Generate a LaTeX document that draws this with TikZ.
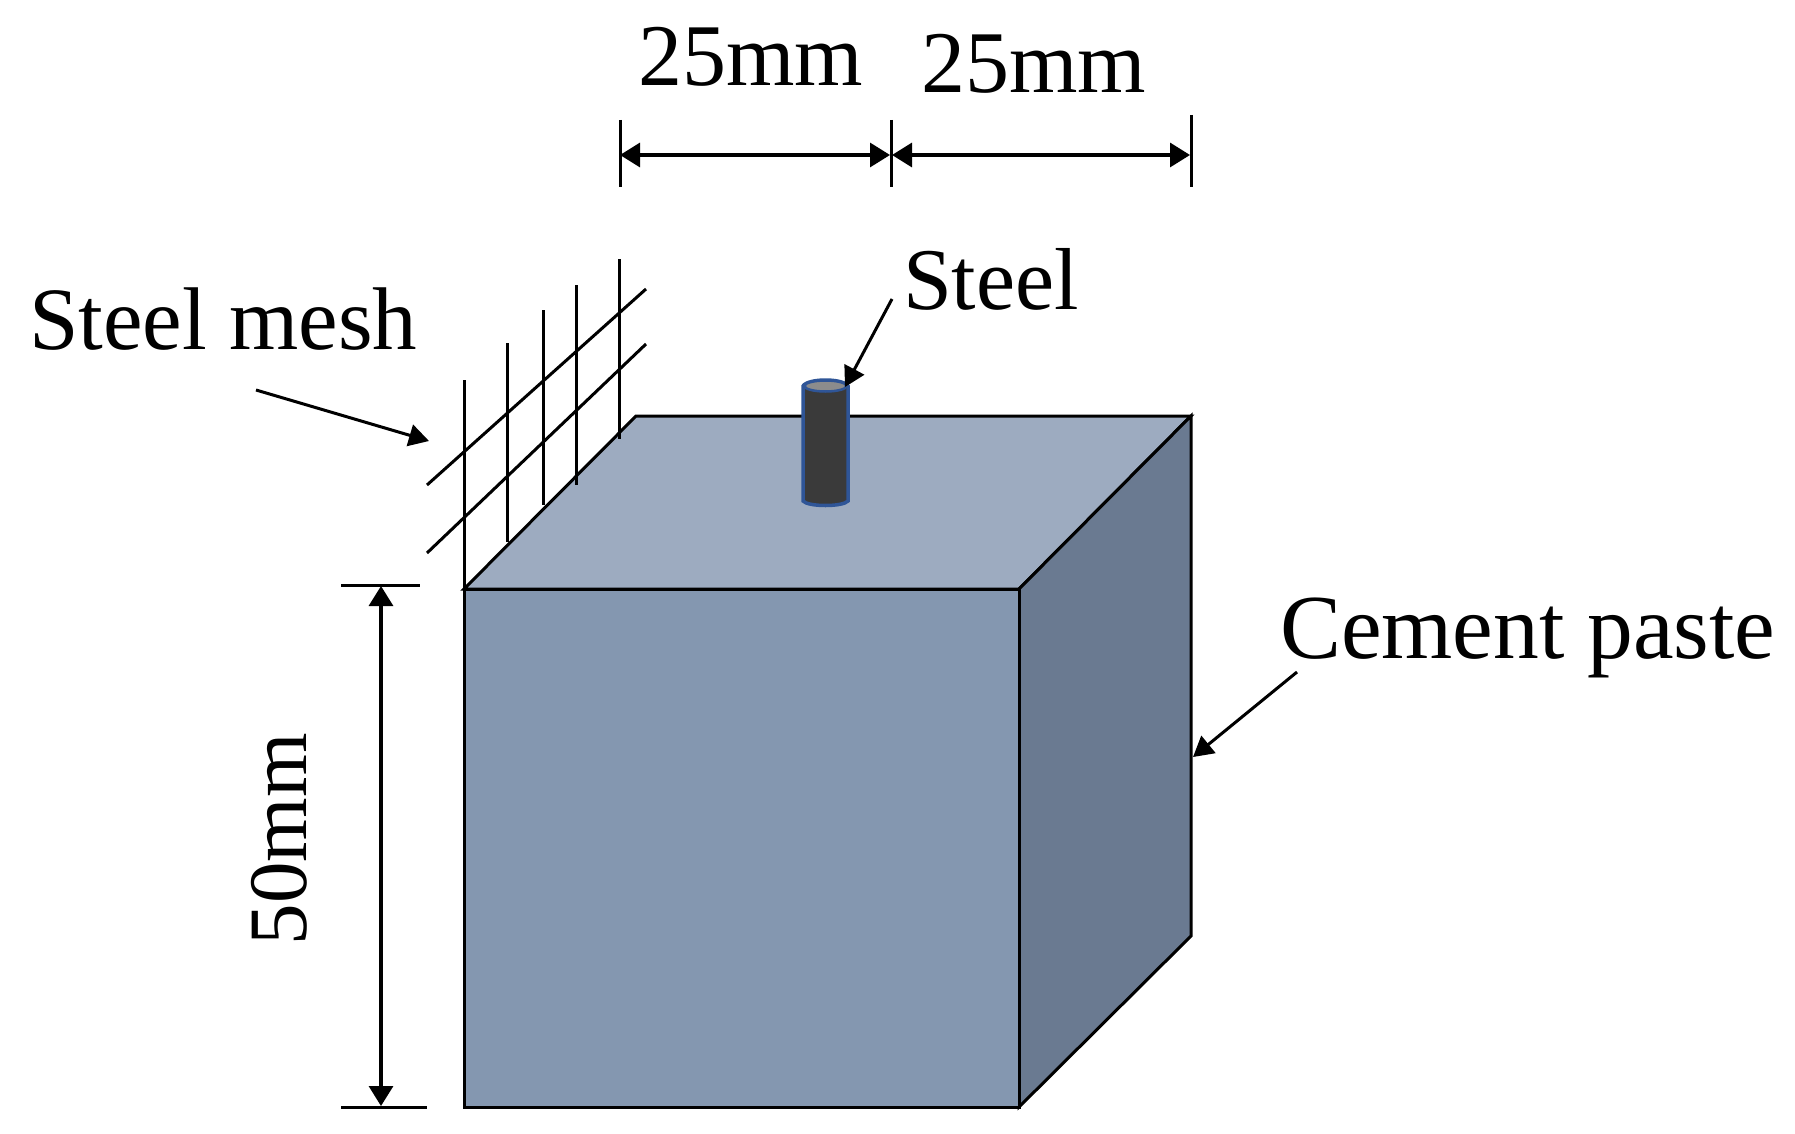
\documentclass[tikz,border=0pt]{standalone}
\usepackage{fontspec}
\setmainfont{Liberation Serif}
\usetikzlibrary{arrows.meta}
\definecolor{frontc}{HTML}{8497B0}
\definecolor{topc}{HTML}{9DABC0}
\definecolor{sidec}{HTML}{6A7A91}
\definecolor{cyld}{HTML}{3A3A3A}
\definecolor{cylb}{HTML}{2F5597}
\tikzset{
  x=1pt,y=-1pt,
  face/.style={draw=black,line width=3pt,line join=miter},
  lab/.style={inner sep=0pt,outer sep=0pt,font=\fontsize{88}{95}\selectfont,anchor=base west},
  wire/.style={line width=3pt,black},
  tick/.style={line width=3pt,black},
  dim/.style={line width=3.2pt,black,{Triangle[length=20pt,width=24pt]}-{Triangle[length=20pt,width=24pt]}},
  lead/.style={line width=3pt,black,-{Triangle[length=20pt,width=22pt]}}
}
\begin{document}
\begin{tikzpicture}
\useasboundingbox (0,0) rectangle (1795,1134);
\fill[white] (0,0) rectangle (1795,1134);
% cube corners
\coordinate (ftl) at (464,589);
\coordinate (ftr) at (1019,589);
\coordinate (fbl) at (464,1107);
\coordinate (fbr) at (1019,1107);
\coordinate (btl) at (636,416);
\coordinate (btr) at (1191,416);
\coordinate (bbr) at (1191,936);
\draw[face,fill=topc] (ftl) -- (btl) -- (btr) -- (ftr) -- cycle;
\draw[face,fill=sidec] (ftr) -- (btr) -- (bbr) -- (fbr) -- cycle;
\draw[face,fill=frontc] (ftl) -- (ftr) -- (fbr) -- (fbl) -- cycle;
% mesh
\coordinate (v1t) at (464,380);
\coordinate (v2t) at (507,343);
\coordinate (v2b) at (507,542);
\coordinate (v3t) at (543,310);
\coordinate (v3b) at (543,505);
\coordinate (v4t) at (576,285);
\coordinate (v4b) at (576,485);
\coordinate (v5t) at (619,259);
\coordinate (v5b) at (619,439);
\coordinate (d1a) at (427,485);
\coordinate (d1b) at (646,289);
\coordinate (d2a) at (427,553);
\coordinate (d2b) at (646,344);
\draw[wire] (v1t) -- (ftl);
\draw[wire] (v2t) -- (v2b);
\draw[wire] (v3t) -- (v3b);
\draw[wire] (v4t) -- (v4b);
\draw[wire] (v5t) -- (v5b);
\draw[wire] (d1a) -- (d1b);
\draw[wire] (d2a) -- (d2b);
% steel bar
\fill[cyld,draw=cylb,line width=3.5pt] (803,386) -- (803,501) .. controls (808,507) and (843,507) .. (848,501) -- (848,386) .. controls (843,378) and (808,378) .. (803,386) -- cycle;
\fill[gray!90!white,draw=cylb,line width=2.5pt] (825.5,386) ellipse[x radius=21,y radius=5.5];
% labels
\node[lab] (t1) at (638,86) {25mm};
\node[lab] (t2) at (921,93) {25mm};
\node[lab] (steel) at (903,309) {Steel};
\node[lab,font=\fontsize{89}{95}\selectfont] (meshl) at (29,349) {Steel mesh};
\node[lab,font=\fontsize{91.5}{98}\selectfont] (paste) at (1280,658) {Cement paste};
\node[lab,font=\fontsize{83}{90}\selectfont,anchor=base,rotate=90] (t3) at (306,839) {50mm};
% dimensions
\coordinate (a1t) at (620,120);
\coordinate (a1b) at (620,187);
\coordinate (a2t) at (891,120);
\coordinate (a2b) at (891,187);
\coordinate (a3t) at (1191,115);
\coordinate (a3b) at (1191,187);
\coordinate (d1l) at (620,155);
\coordinate (d1r) at (890,155);
\coordinate (d2l) at (892,155);
\coordinate (d2r) at (1190,155);
\draw[tick] (a1t) -- (a1b);
\draw[tick] (a2t) -- (a2b);
\draw[tick] (a3t) -- (a3b);
\draw[dim] (d1l) -- (d1r);
\draw[dim] (d2l) -- (d2r);
\coordinate (h1a) at (341,585);
\coordinate (h1b) at (420,585);
\coordinate (h2a) at (341,1107);
\coordinate (h2b) at (427,1107);
\coordinate (vt) at (381,586);
\coordinate (vb) at (381,1106);
\draw[tick] (h1a) -- (h1b);
\draw[tick] (h2a) -- (h2b);
\draw[dim] (vt) -- (vb);
% leaders
\coordinate (ls1) at (892,299);
\coordinate (le1) at (845,387);
\coordinate (ls2) at (256,390);
\coordinate (le2) at (429,441);
\coordinate (ls3) at (1297,672);
\coordinate (le3) at (1193,757);
\draw[lead] (ls1) -- (le1);
\draw[lead] (ls2) -- (le2);
\draw[lead] (ls3) -- (le3);
\end{tikzpicture}
\end{document}
